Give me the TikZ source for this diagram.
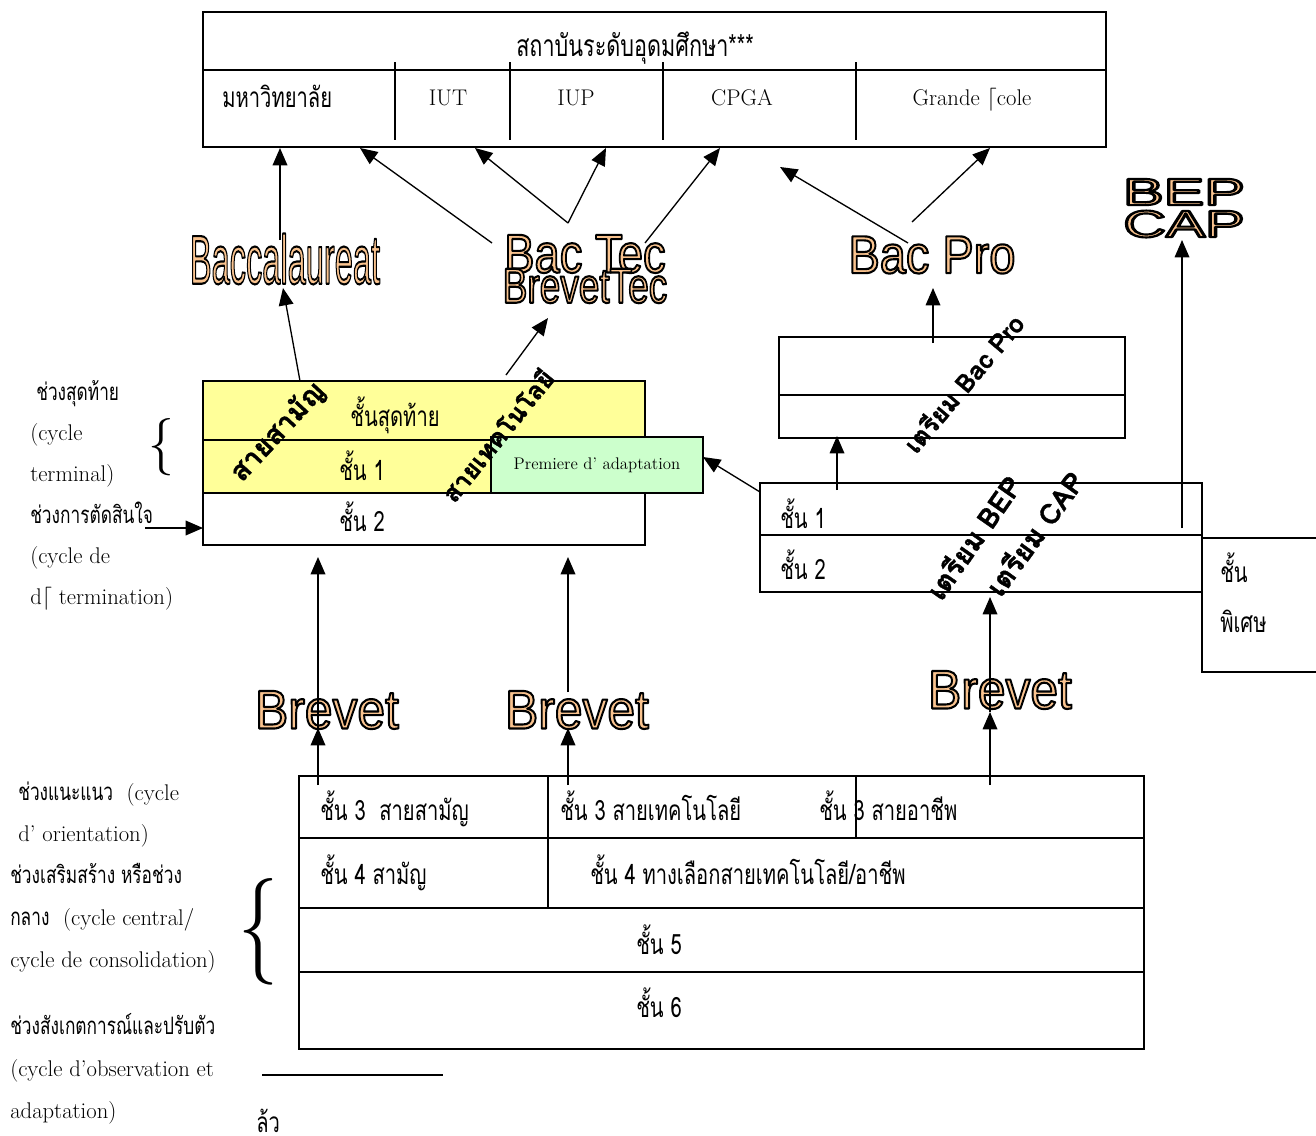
\documentclass[tikz,border=0pt]{standalone}
\usepackage{fontspec}
\usetikzlibrary{arrows.meta,fit}
\newfontfamily\thaiN[Script=Thai,FakeStretch=0.72]{Loma}
\newfontfamily\thaiB[Script=Thai,BoldFeatures={FakeBold=1.2}]{Loma}
\newfontfamily\wafont{Liberation Sans}
\definecolor{waorange}{HTML}{F9C38F}
\definecolor{ylw}{HTML}{FFFF99}
\definecolor{grn}{HTML}{CCFFCC}
\newcommand\setfs[1]{\fontsize{#1pt}{#1pt}\selectfont}
\newcommand\outlined[1]{\special{pdf:literal direct 0 0 0 RG 1.6 w 1 j 2 Tr}#1\special{pdf:literal direct 0 Tr}}
\tikzset{
  box/.style={draw, line width=1.2pt, inner sep=0pt},
  ln/.style={line width=1.2pt},
  arr/.style={-{Triangle[length=13pt,width=11pt]}, line width=1pt},
  th/.style={font=\thaiN\setfs{21}, inner sep=0pt},
  thl/.style={font=\thaiN\setfs{18}, inner sep=0pt},
  la/.style={font=\setfs{17}, inner sep=0pt},
  wa/.style={font=\wafont, inner sep=0pt, text=waorange},
  rot/.style={font=\thaiB\bfseries\setfs{19}, inner sep=0pt},
}
\begin{document}
\begin{tikzpicture}[x=0.75pt,y=-0.75pt]
\useasboundingbox (0,0) rectangle (1316,1135);

% ---------- top box ----------
\node[box, fit={(203,12)(1106,147)}] (topbox) {};
\draw[ln] (203,70) -- (1106,70);
\foreach \xx/\nm in {395/d1,510/d2,663/d3,856/d4}
  \draw[ln] (\xx,62) coordinate (\nm a) -- (\xx,140) coordinate (\nm b);
\node[th, font=\thaiN\setfs{22.5}, anchor=base] (inst) at (635,56) {สถาบันระดับอุดมศึกษา***};
\node[th, anchor=base west] (univ) at (222,107) {มหาวิทยาลัย};
\node[la, anchor=base] (iut) at (448,105) {IUT};
\node[la, anchor=base] (iup) at (576,105) {IUP};
\node[la, anchor=base] (cpga) at (742,105) {CPGA};
\node[la, anchor=base] (ge) at (972,105) {Grande $\big\lceil$cole};

% ---------- word art ----------
\node[wa, font=\wafont\setfs{52}, xscale=0.47] (bacc) at (285,259) {\outlined{Baccalaureat}};
\node[wa, font=\wafont\setfs{41}, xscale=0.83] (bactec) at (585,254) {\outlined{Bac Tec}};
\node[wa, font=\wafont\setfs{37}, xscale=0.75] (brevtec) at (585,286) {\outlined{BrevetTec}};
\node[wa, font=\wafont\setfs{40}, xscale=0.88] (bacpro) at (932,255) {\outlined{Bac Pro}};
\node[wa, font=\wafont\setfs{28.5}, xscale=1.6] (bep) at (1184,192) {\outlined{BEP}};
\node[wa, font=\wafont\setfs{28.5}, xscale=1.55] (cap) at (1184,224) {\outlined{CAP}};
\node[wa, font=\wafont\setfs{41}, xscale=0.91] (brev1) at (327,710) {\outlined{Brevet}};
\node[wa, font=\wafont\setfs{41}, xscale=0.91] (brev2) at (577,710) {\outlined{Brevet}};
\node[wa, font=\wafont\setfs{41}, xscale=0.91] (brev3) at (1000,690) {\outlined{Brevet}};

% ---------- lycee general / techno ----------
\node[box, fill=ylw, fit={(203,381)(645,440)}] (ly1) {};
\node[box, fill=ylw, fit={(203,440)(645,493)}] (ly2) {};
\node[box, fit={(203,493)(645,545)}] (ly3) {};
\node[box, fill=grn, fit={(491,437)(703,493)}] (pa) {};
\node[font=\setfs{12.6}, inner sep=0pt] (patxt) at (pa.center) {Premiere d' adaptation};
\node[th, anchor=base] (lyt1) at (395,426) {ชั้นสุดท้าย};
\node[th, anchor=base] (lyt2) at (362,480) {ชั้น 1};
\node[th, anchor=base] (lyt3) at (362,531) {ชั้น 2};
\node[rot, font=\thaiB\bfseries\setfs{21}, rotate=47] (sgen) at (278,432) {สายสามัญ};
\node[rot, rotate=51] (stec) at (497,435) {สายเทคโนโลยี};

% ---------- left labels (upper) ----------
\node[thl, anchor=base west] (l1) at (36,400) {ช่วงสุดท้าย};
\node[la, anchor=base west] (l2) at (30,440) {(cycle};
\node[la, anchor=base west] (l3) at (30,481) {terminal)};
\node[thl, anchor=base west] (l4) at (30,523) {ช่วงการตัดสินใจ};
\node[la, anchor=base west] (l5) at (30,563) {(cycle de};
\node[la, anchor=base west] (l6) at (30,604) {d$\big\lceil$ termination)};
\node[font=\setfs{43}, xscale=0.9, inner sep=0pt] (br1) at (161,447) {\{};

% ---------- lycee pro ----------
\node[box, fit={(779,337)(1125,395)}] (bp1) {};
\node[box, fit={(779,395)(1125,438)}] (bp2) {};
\node[box, fit={(760,483)(1202,535)}] (rp1) {};
\node[box, fit={(760,535)(1202,592)}] (rp2) {};
\node[box, fit={(1202,538)(1330,672)}] (spec) {};
\node[th, anchor=base west] (rpt1) at (780,528) {ชั้น 1};
\node[th, anchor=base west] (rpt2) at (780,579) {ชั้น 2};
\node[th, anchor=base west] (spt1) at (1220,582) {ชั้น};
\node[th, anchor=base west] (spt2) at (1220,632) {พิเศษ};
\node[rot, rotate=50] (pbp) at (963,383) {เตรียม Bac Pro};
\node[rot, font=\thaiB\bfseries\setfs{21}, rotate=55] (pbep) at (973,537) {เตรียม BEP};
\node[rot, font=\thaiB\bfseries\setfs{21}, rotate=54] (pcap) at (1034,533) {เตรียม CAP};

% ---------- college ----------
\node[box, fit={(299,776)(1144,838)}] (c3) {};
\node[box, fit={(299,838)(1144,908)}] (c4) {};
\node[box, fit={(299,908)(1144,972)}] (c5) {};
\node[box, fit={(299,972)(1144,1049)}] (c6) {};
\draw[ln] (548,776) -- (548,908);
\draw[ln] (856,776) -- (856,838);
\node[th, anchor=base west] (c3a) at (320,820) {ชั้น 3~~สายสามัญ};
\node[th, anchor=base west] (c3b) at (560,820) {ชั้น 3 สายเทคโนโลยี};
\node[th, anchor=base west] (c3c) at (819,820) {ชั้น 3 สายอาชีพ};
\node[th, anchor=base west] (c4a) at (320,884) {ชั้น 4 สามัญ};
\node[th, anchor=base west] (c4b) at (590,884) {ชั้น 4 ทางเลือกสายเทคโนโลยี/อาชีพ};
\node[th, anchor=base] (c5t) at (659,954) {ชั้น 5};
\node[th, anchor=base] (c6t) at (659,1017) {ชั้น 6};

% ---------- left labels (lower) ----------
\node[anchor=base west, inner sep=0pt] (m1) at (18,800) {\thaiN\setfs{18}ช่วงแนะแนว\setfs{17}\rmfamily~~(cycle};
\node[la, anchor=base west] (m2) at (18,841) {d' orientation)};
\node[thl, anchor=base west] (m3) at (10,883) {ช่วงเสริมสร้าง หรือช่วง};
\node[anchor=base west, inner sep=0pt] (m4) at (10,925) {\thaiN\setfs{18}กลาง\setfs{17}\rmfamily~~(cycle central/};
\node[la, anchor=base west] (m5) at (10,967) {cycle de consolidation)};
\node[thl, anchor=base west] (m6) at (10,1034) {ช่วงสังเกตการณ์และปรับตัว};
\node[la, anchor=base west] (m7) at (10,1076) {(cycle d'observation et};
\node[la, anchor=base west] (m8) at (10,1118) {adaptation)};
\node[font=\setfs{80}, xscale=0.75, inner sep=0pt] (br2) at (258,932) {\{};
\coordinate (fn1) at (262,1075);
\coordinate (fn2) at (443,1075);
\draw[ln] (fn1) -- (fn2);
\node[th, anchor=base west] (fnt) at (256,1132) {ล้ว};

% ---------- connectors ----------
\coordinate (a1s) at (280,240);  \coordinate (a1e) at (280,148);
\coordinate (a2s) at (300,381);  \coordinate (a2e) at (283,288);
\coordinate (a3s) at (492,243);  \coordinate (a3e) at (360,148);
\coordinate (v0) at (568,223);   \coordinate (v1) at (475,148); \coordinate (v2) at (606,148);
\coordinate (a5s) at (645,243);  \coordinate (a5e) at (720,148);
\coordinate (a6s) at (506,375);  \coordinate (a6e) at (548,318);
\coordinate (a7s) at (908,243);  \coordinate (a7e) at (780,167);
\coordinate (a8s) at (912,222);  \coordinate (a8e) at (990,148);
\coordinate (a9s) at (933,343);  \coordinate (a9e) at (933,288);
\coordinate (a10s) at (837,490); \coordinate (a10e) at (837,436);
\coordinate (a11s) at (760,492); \coordinate (a11e) at (703,457);
\coordinate (a12s) at (1182,528);\coordinate (a12e) at (1182,240);
\coordinate (a13s) at (145,528); \coordinate (a13e) at (203,528);
\coordinate (b1s) at (318,785);  \coordinate (b1e) at (318,728);
\coordinate (b2s) at (568,785);  \coordinate (b2e) at (568,728);
\coordinate (b3s) at (990,785);  \coordinate (b3e) at (990,712);
\coordinate (u1s) at (318,728);  \coordinate (u1e) at (318,557);
\coordinate (u2s) at (568,692);  \coordinate (u2e) at (568,557);
\coordinate (u3s) at (990,712);  \coordinate (u3e) at (990,597);

\draw[arr] (a1s) -- (a1e);
\draw[arr] (a2s) -- (a2e);
\draw[arr] (a3s) -- (a3e);
\draw[arr] (v0) -- (v1);
\draw[arr] (v0) -- (v2);
\draw[arr] (a5s) -- (a5e);
\draw[arr] (a6s) -- (a6e);
\draw[arr] (a7s) -- (a7e);
\draw[arr] (a8s) -- (a8e);
\draw[arr] (a9s) -- (a9e);
\draw[arr] (a10s) -- (a10e);
\draw[arr] (a11s) -- (a11e);
\draw[arr] (a12s) -- (a12e);
\draw[arr] (a13s) -- (a13e);
\draw[arr] (b1s) -- (b1e);
\draw[arr] (b2s) -- (b2e);
\draw[arr] (b3s) -- (b3e);
\draw[arr] (u1s) -- (u1e);
\draw[arr] (u2s) -- (u2e);
\draw[arr] (u3s) -- (u3e);
\end{tikzpicture}
\end{document}
